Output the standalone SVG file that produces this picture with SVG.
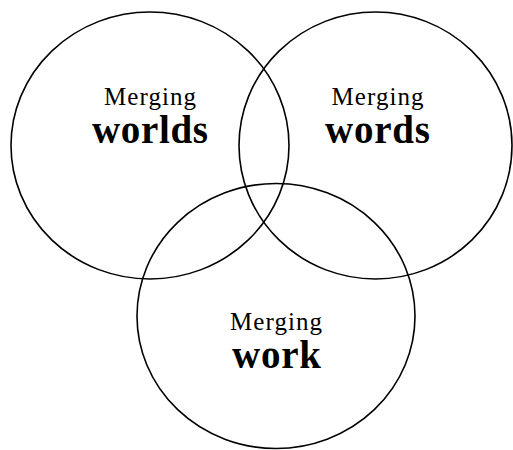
<svg xmlns="http://www.w3.org/2000/svg" width="513" height="450" viewBox="0 0 513 450">
<style>
.c{fill:none;stroke:#000;stroke-width:1.6}
.t{font-family:"Liberation Serif","Times New Roman",serif;fill:#000;text-anchor:middle}
.s{font-size:25px}
.b{font-size:39px;font-weight:bold}
</style>
<rect width="513" height="450" fill="#fff"/>
<g id="worlds">
<ellipse class="c" cx="150" cy="145.5" rx="139" ry="133.5"/>
<text class="t s" x="150" y="105" textLength="92" lengthAdjust="spacing">Merging</text>
<text class="t b" x="150" y="143" textLength="116" lengthAdjust="spacing">worlds</text>
</g>
<g id="words">
<ellipse class="c" cx="375.5" cy="145.5" rx="136.5" ry="133.5"/>
<text class="t s" x="377.5" y="105" textLength="92" lengthAdjust="spacing">Merging</text>
<text class="t b" x="377.5" y="143" textLength="105" lengthAdjust="spacing">words</text>
</g>
<g id="work">
<ellipse class="c" cx="276" cy="316" rx="139" ry="132.5"/>
<text class="t s" x="276" y="330" textLength="92" lengthAdjust="spacing">Merging</text>
<text class="t b" x="276.5" y="368" textLength="89" lengthAdjust="spacing">work</text>
</g>
<g id="connectors"></g>
</svg>
